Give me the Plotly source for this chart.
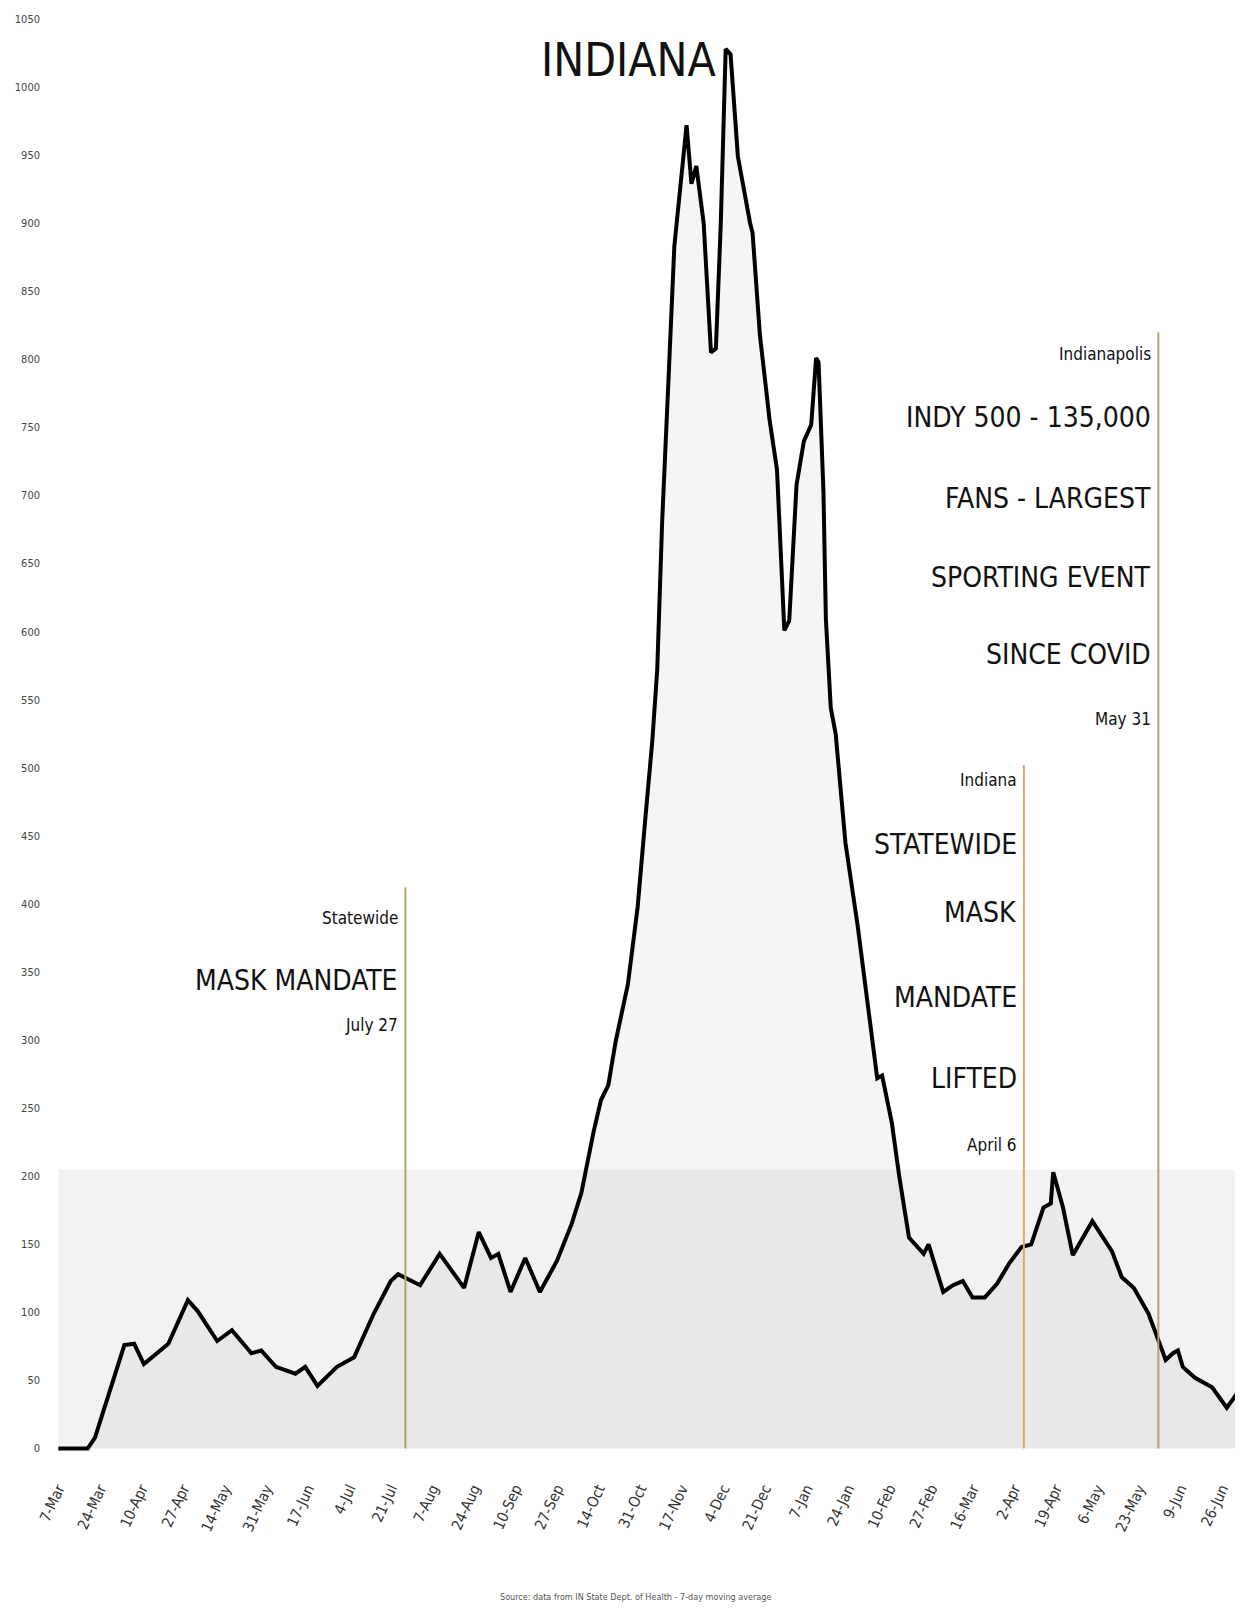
import plotly.graph_objects as go

# ---- data ----
dates = [
    "2020-03-07", "2020-03-19", "2020-03-22", "2020-04-03", "2020-04-07", "2020-04-11",
    "2020-04-21", "2020-04-29", "2020-05-03", "2020-05-11", "2020-05-17", "2020-05-25",
    "2020-05-29", "2020-06-04", "2020-06-12", "2020-06-16", "2020-06-21", "2020-06-29",
    "2020-07-06", "2020-07-09", "2020-07-14", "2020-07-21", "2020-07-24", "2020-08-02",
    "2020-08-10", "2020-08-20", "2020-08-26", "2020-08-31", "2020-09-03", "2020-09-08",
    "2020-09-14", "2020-09-20", "2020-09-27", "2020-10-03", "2020-10-07", "2020-10-12",
    "2020-10-15", "2020-10-18", "2020-10-21", "2020-10-26", "2020-10-30", "2020-11-02",
    "2020-11-05", "2020-11-07", "2020-11-09", "2020-11-12", "2020-11-14", "2020-11-19",
    "2020-11-21", "2020-11-23", "2020-11-26", "2020-11-29", "2020-12-01", "2020-12-03",
    "2020-12-05", "2020-12-07", "2020-12-10", "2020-12-15", "2020-12-16", "2020-12-19",
    "2020-12-23", "2020-12-26", "2020-12-29", "2020-12-31", "2021-01-03", "2021-01-06",
    "2021-01-09", "2021-01-11", "2021-01-12", "2021-01-14", "2021-01-15", "2021-01-17",
    "2021-01-19", "2021-01-23", "2021-01-28", "2021-02-01", "2021-02-05", "2021-02-07",
    "2021-02-11", "2021-02-14", "2021-02-18", "2021-02-24", "2021-02-26", "2021-03-04",
    "2021-03-08", "2021-03-12", "2021-03-16", "2021-03-21", "2021-03-26", "2021-03-31",
    "2021-04-05", "2021-04-09", "2021-04-14", "2021-04-17", "2021-04-18", "2021-04-22",
    "2021-04-26", "2021-05-04", "2021-05-12", "2021-05-16", "2021-05-21", "2021-05-27",
    "2021-06-03", "2021-06-06", "2021-06-08", "2021-06-10", "2021-06-15", "2021-06-22",
    "2021-06-28", "2021-07-02",
]
cases = [
    0, 0, 8, 76, 77, 62,
    77, 109, 101, 79, 87, 70,
    72, 60, 55, 60, 46, 60,
    67, 79, 99, 123, 128, 120,
    143, 118, 159, 140, 143, 115,
    140, 115, 138, 165, 188, 233,
    256, 267, 299, 341, 398, 460,
    520, 572, 680, 801, 883, 972,
    929, 942, 900, 805, 808, 900,
    1028, 1024, 949, 900, 893, 818,
    755, 719, 601, 608, 708, 740,
    752, 801, 798, 703, 609, 544,
    525, 445, 384, 328, 272, 274,
    239, 200, 155, 143, 150, 115,
    120, 123, 111, 111, 121, 136,
    148, 150, 177, 180, 203, 177,
    142, 167, 145, 126, 118, 99,
    65, 70, 72, 60, 52, 45,
    30, 40,
]

tick_dates = [
    "2020-03-07", "2020-03-24", "2020-04-10", "2020-04-27", "2020-05-14", "2020-05-31",
    "2020-06-17", "2020-07-04", "2020-07-21", "2020-08-07", "2020-08-24", "2020-09-10",
    "2020-09-27", "2020-10-14", "2020-10-31", "2020-11-17", "2020-12-04", "2020-12-21",
    "2021-01-07", "2021-01-24", "2021-02-10", "2021-02-27", "2021-03-16", "2021-04-02",
    "2021-04-19", "2021-05-06", "2021-05-23", "2021-06-09", "2021-06-26",
]
tick_labels = [
    "7-Mar", "24-Mar", "10-Apr", "27-Apr", "14-May", "31-May",
    "17-Jun", "4-Jul", "21-Jul", "7-Aug", "24-Aug", "10-Sep",
    "27-Sep", "14-Oct", "31-Oct", "17-Nov", "4-Dec", "21-Dec",
    "7-Jan", "24-Jan", "10-Feb", "27-Feb", "16-Mar", "2-Apr",
    "19-Apr", "6-May", "23-May", "9-Jun", "26-Jun",
]

event_dates = ["2020-07-27", "2021-04-06", "2021-05-31"]
event_tops = [412, 502, 820]
event_colors = ["#b4a65a", "#e4a468", "#c09a78"]

event_texts = [
    ["Statewide", "MASK MANDATE", "July 27"],
    ["Indiana", "STATEWIDE", "MASK", "MANDATE", "LIFTED", "April 6"],
    ["Indianapolis", "INDY 500 - 135,000", "FANS - LARGEST", "SPORTING EVENT", "SINCE COVID", "May 31"],
]
event_text_y = [
    [390, 344, 311],
    [491, 444, 394, 331, 272, 223],
    [804, 757, 698, 640, 583, 536],
]

band_top = 205
title_text = "INDIANA"
title_date = "2020-12-02"
title_value = 1020
source_text = "Source: data from IN State Dept. of Health - 7-day moving average"

FONT = "DejaVu Sans Condensed, Liberation Sans Narrow, DejaVu Sans, sans-serif"

fig = go.Figure()

fig.add_shape(type="rect", xref="x", yref="y", x0=dates[0], x1=dates[-1], y0=0, y1=band_top,
              fillcolor="rgba(0,0,0,0.05)", line=dict(width=0), layer="below")

fig.add_trace(go.Scatter(
    x=dates, y=cases, mode="lines",
    line=dict(color="#000000", width=4),
    fill="tozeroy", fillcolor="rgba(0,0,0,0.04)",
    hoverinfo="skip",
))

annotations = []
for d, top, col, lines, ys in zip(event_dates, event_tops, event_colors, event_texts, event_text_y):
    fig.add_shape(type="line", xref="x", yref="y", x0=d, x1=d, y0=0, y1=top,
                  line=dict(color=col, width=2))
    for i, (t, yv) in enumerate(zip(lines, ys)):
        small = (i == 0 or i == len(lines) - 1)
        annotations.append(dict(
            x=d, y=yv, xref="x", yref="y", text=t, showarrow=False,
            xanchor="right", yanchor="middle", xshift=-5,
            font=dict(family=FONT, size=17 if small else 28, color="#111111"),
        ))

annotations.append(dict(
    x=title_date, y=title_value, xref="x", yref="y", text=title_text, showarrow=False,
    xanchor="right", yanchor="middle",
    font=dict(family=FONT, size=46, color="#111111"),
))
annotations.append(dict(
    x=0.492, y=-0.0995, xref="paper", yref="paper", text=source_text, showarrow=False,
    xanchor="center", yanchor="middle",
    font=dict(family=FONT, size=9, color="#555555"),
))

fig.update_layout(
    width=1235, height=1608,
    margin=dict(l=43, r=4, t=11, b=162, autoexpand=False),
    paper_bgcolor="white", plot_bgcolor="white",
    showlegend=False,
    annotations=annotations,
    xaxis=dict(
        type="date", range=["2020-03-04", "2021-07-03"],
        tickmode="array", tickvals=tick_dates, ticktext=tick_labels,
        tickangle=-65, ticks="", showgrid=False, zeroline=False, showline=False,
        ticklabelstandoff=22,
        tickfont=dict(family=FONT, size=15, color="#333333"),
    ),
    yaxis=dict(
        range=[-4, 1050], tick0=0, dtick=50,
        ticks="", showgrid=False, zeroline=False, showline=False,
        ticklabelstandoff=10,
        tickfont=dict(family=FONT, size=11, color="#444444"),
    ),
)

fig.write_html("out.html")
